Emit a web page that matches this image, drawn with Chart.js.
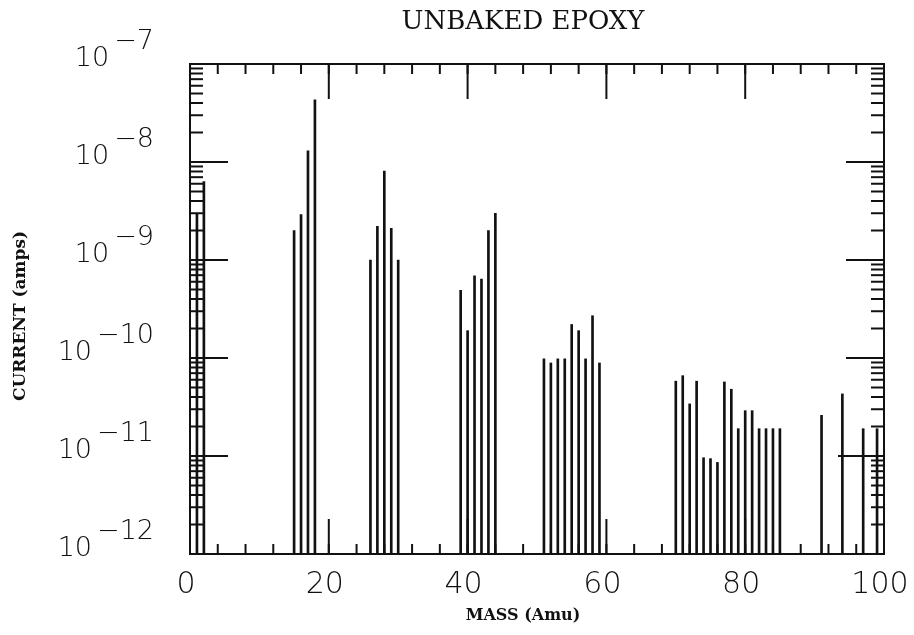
<!DOCTYPE html>
<html><head><meta charset="utf-8">
<style>html,body{margin:0;padding:0;background:#fff}#wrap{width:914px;height:635px}</style>
<script src="https://cdn.jsdelivr.net/npm/chart.js@4.4.1/dist/chart.umd.min.js"></script>
</head><body><div id="wrap"><canvas id="c" width="914" height="635"></canvas></div>
<script>
// ---- data ----
const titleText = 'UNBAKED EPOXY';
const xTitle = 'MASS (Amu)';
const yTitle = 'CURRENT (amps)';
const masses = [1,2, 15,16,17,18, 26,27,28,29,30, 39,40,41,42,43,44,
  51,52,53,54,55,56,57,58,59,
  70,71,72,73,74,75,76,77,78,79,80,81,82,83,84,85,
  91,94,97,99];
const currents = [3.0e-9,6.3e-9, 2.0e-9,2.9e-9,1.3e-8,4.3e-8,
  1.0e-9,2.2e-9,8.1e-9,2.1e-9,1.0e-9,
  4.9e-10,1.9e-10,6.9e-10,6.4e-10,2.0e-9,3.0e-9,
  9.8e-11,8.9e-11,9.8e-11,9.8e-11,2.2e-10,1.9e-10,9.8e-11,2.7e-10,8.9e-11,
  5.8e-11,6.6e-11,3.4e-11,5.8e-11,9.6e-12,9.4e-12,8.6e-12,5.7e-11,4.8e-11,1.9e-11,2.9e-11,2.9e-11,1.9e-11,1.9e-11,1.9e-11,1.9e-11,
  2.6e-11,4.3e-11,1.9e-11,1.9e-11];
const xTickValues = [0,20,40,60,80,100];
const xTickLabels = ['0','20','40','60','80','100'];
const xMinorStep = 4;
const yExponents = [-7,-8,-9,-10,-11,-12];
const yMin = 1e-12, yMax = 1e-7;

const deco = {
  id: 'deco',
  afterDraw(chart) {
    const {ctx, chartArea: a, scales: {x, y}} = chart;
    ctx.save();
    ctx.strokeStyle = '#111';
    ctx.fillStyle = '#111';
    ctx.lineWidth = 2;
    const line = (x1, y1, x2, y2) => { ctx.beginPath(); ctx.moveTo(x1, y1); ctx.lineTo(x2, y2); ctx.stroke(); };
    // frame
    ctx.strokeRect(a.left, a.top, a.right - a.left, a.bottom - a.top);
    // x ticks (inward, top and bottom)
    for (let v = 0; v <= 100; v += xMinorStep) {
      const px = x.getPixelForValue(v);
      line(px, a.top, px, a.top + 10);
      line(px, a.bottom, px, a.bottom - 10);
    }
    for (const v of xTickValues) {
      const px = x.getPixelForValue(v);
      line(px, a.top, px, a.top + 35);
      line(px, a.bottom, px, a.bottom - 35);
    }
    // y ticks (log, inward, left and right)
    for (const e of yExponents) {
      for (let k = 1; k < 10; k++) {
        const v = k * Math.pow(10, e);
        if (v > yMax * 1.0001) continue;
        const py = y.getPixelForValue(v);
        const L = k === 1 ? 38 : 13;
        line(a.left, py, a.left + L, py);
        line(a.right, py, a.right - (k === 1 && e === -11 ? 46 : L), py);
      }
    }
    // x tick labels
    ctx.font = '200 30px "DejaVu Sans"';
    ctx.textAlign = 'center';
    ctx.textBaseline = 'middle';
    xTickValues.forEach((v, i) => {
      ctx.fillText(xTickLabels[i], x.getPixelForValue(v) - 4, 585);
    });
    // y tick labels 10^e
    ctx.font = '200 27px "DejaVu Sans"';
    ctx.textAlign = 'left';
    for (const e of yExponents) {
      const py = y.getPixelForValue(Math.pow(10, e));
      const sup = '\u2212' + Math.abs(e);
      const supW = ctx.measureText(sup).width;
      const baseW = ctx.measureText('10').width;
      const right = 154;
      const sx = right - supW;
      const bx = sx - 5 - baseW;
      ctx.fillText('10', bx, py - 5);
      ctx.fillText(sup, sx, py - 22);
    }
    // title
    ctx.font = '26px "DejaVu Serif"';
    ctx.textAlign = 'center';
    ctx.fillText(titleText, 523, 22);
    // axis titles
    ctx.font = 'bold 16px "DejaVu Serif"';
    ctx.fillText(xTitle, 523, 616);
    ctx.save();
    ctx.translate(21, 316);
    ctx.rotate(-Math.PI / 2);
    ctx.font = 'bold 17px "DejaVu Serif"';
    ctx.fillText(yTitle, 0, 0);
    ctx.restore();
    ctx.restore();
  }
};

new Chart(document.getElementById('c'), {
  type: 'bar',
  data: {
    datasets: [{
      data: masses.map((m, i) => ({x: m, y: [yMin, currents[i]]})),
      backgroundColor: '#111',
      borderWidth: 0,
      barThickness: 2,
      grouped: false
    }]
  },
  options: {
    responsive: false,
    animation: false,
    layout: {padding: {left: 190, right: 30, top: 64, bottom: 81}},
    plugins: {legend: {display: false}, tooltip: {enabled: false}, title: {display: false}},
    scales: {
      x: {type: 'linear', min: 0, max: 100, offset: false, display: false, grid: {offset: false}},
      y: {type: 'logarithmic', min: yMin, max: yMax, display: false}
    }
  },
  plugins: [deco]
});
</script>
</body></html>
